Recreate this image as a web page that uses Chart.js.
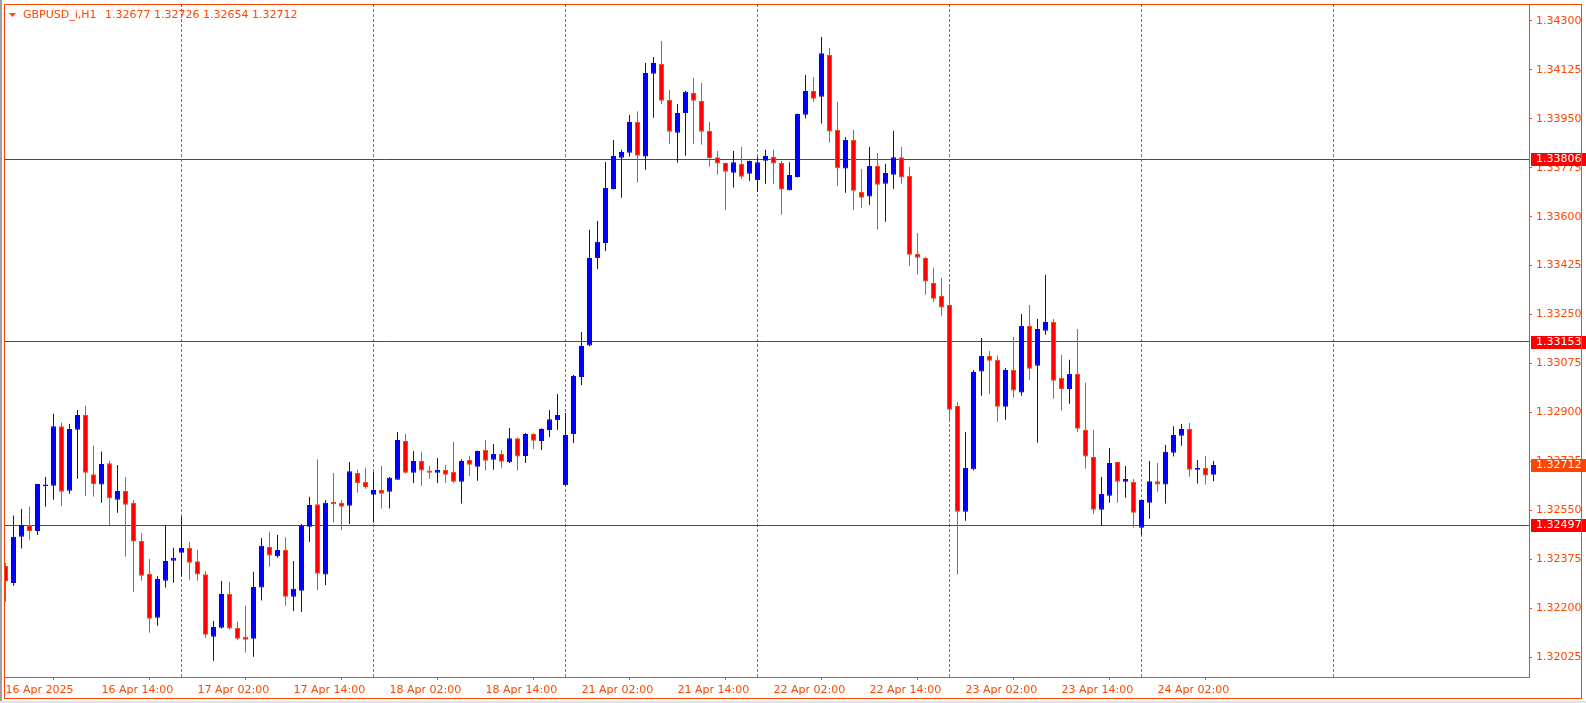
<!DOCTYPE html>
<html>
<head>
<meta charset="utf-8">
<title>GBPUSD_i,H1</title>
<script src="https://cdn.jsdelivr.net/npm/chart.js@4.4.1/dist/chart.umd.min.js"></script>
<style>
  html, body { margin: 0; padding: 0; background: #fff; overflow: hidden; }
  #wrap { width: 1586px; height: 703px; }
</style>
</head>
<body>
<div id="wrap"><canvas id="chart" width="1586" height="703"></canvas></div>
<script>
// ── DATA (H1 bars, 16 Apr 02:00 → 24 Apr 09:00) ──
const symbolTitle = 'GBPUSD_i,H1';
const lastBar = '1.32677 1.32726 1.32654 1.32712';

const opens = [
  1.32351, 1.32290, 1.32455, 1.32497, 1.32476, 1.32636, 1.32638, 1.32851, 1.32620, 1.32838,
  1.32891, 1.32679, 1.32642, 1.32718, 1.32588, 1.32619, 1.32576, 1.32440, 1.32322, 1.32166,
  1.32298, 1.32370, 1.32398, 1.32415, 1.32368, 1.32321, 1.32098, 1.32130, 1.32251, 1.32129,
  1.32097, 1.32091, 1.32274, 1.32419, 1.32386, 1.32408, 1.32241, 1.32262, 1.32491, 1.32572,
  1.32320, 1.32580, 1.32576, 1.32566, 1.32683, 1.32651, 1.32606, 1.32623, 1.32616, 1.32659,
  1.32798, 1.32684, 1.32726, 1.32692, 1.32684, 1.32694, 1.32687, 1.32652, 1.32730, 1.32706,
  1.32766, 1.32731, 1.32751, 1.32722, 1.32808, 1.32744, 1.32823, 1.32798, 1.32837, 1.32873,
  1.32640, 1.32823, 1.33027, 1.33139, 1.33452, 1.33506, 1.33699, 1.33811, 1.33829, 1.33939,
  1.33815, 1.34111, 1.34146, 1.34017, 1.33900, 1.33971, 1.34042, 1.34014, 1.33907, 1.33813,
  1.33792, 1.33757, 1.33789, 1.33754, 1.33731, 1.33800, 1.33814, 1.33792, 1.33695, 1.33742,
  1.33965, 1.34050, 1.34029, 1.34178, 1.33910, 1.33772, 1.33874, 1.33688, 1.33672, 1.33781,
  1.33718, 1.33750, 1.33813, 1.33746, 1.33467, 1.33452, 1.33363, 1.33316, 1.33284, 1.32923,
  1.32545, 1.32697, 1.33046, 1.33102, 1.33088, 1.32920, 1.33052, 1.32971, 1.33209, 1.33067,
  1.33192, 1.33223, 1.33023, 1.32984, 1.33037, 1.32837, 1.32741, 1.32552, 1.32602, 1.32723,
  1.32652, 1.32651, 1.32488, 1.32577, 1.32654, 1.32642, 1.32756, 1.32817, 1.32841, 1.32695,
  1.32701, 1.32677
];

const highs = [
  1.32362, 1.32531, 1.32555, 1.32563, 1.32644, 1.32669, 1.32895, 1.32863, 1.32859, 1.32909,
  1.32924, 1.32781, 1.32760, 1.32727, 1.32712, 1.32669, 1.32587, 1.32469, 1.32376, 1.32314,
  1.32497, 1.32416, 1.32527, 1.32437, 1.32408, 1.32332, 1.32154, 1.32297, 1.32294, 1.32151,
  1.32209, 1.32330, 1.32451, 1.32473, 1.32462, 1.32454, 1.32369, 1.32501, 1.32598, 1.32733,
  1.32587, 1.32683, 1.32587, 1.32723, 1.32695, 1.32702, 1.32687, 1.32708, 1.32669, 1.32830,
  1.32823, 1.32762, 1.32759, 1.32708, 1.32737, 1.32712, 1.32794, 1.32733, 1.32744, 1.32764,
  1.32801, 1.32787, 1.32766, 1.32844, 1.32810, 1.32826, 1.32826, 1.32843, 1.32909, 1.32966,
  1.32898, 1.33034, 1.33188, 1.33553, 1.33585, 1.33796, 1.33874, 1.33839, 1.33964, 1.33976,
  1.34150, 1.34171, 1.34228, 1.34053, 1.34003, 1.34050, 1.34096, 1.34078, 1.33939, 1.33835,
  1.33794, 1.33835, 1.33849, 1.33801, 1.33814, 1.33839, 1.33839, 1.33799, 1.33795, 1.33969,
  1.34107, 1.34100, 1.34243, 1.34203, 1.34010, 1.33885, 1.33910, 1.33771, 1.33849, 1.33828,
  1.33789, 1.33907, 1.33849, 1.33778, 1.33542, 1.33457, 1.33417, 1.33382, 1.33353, 1.32937,
  1.32830, 1.33052, 1.33166, 1.33120, 1.33104, 1.33059, 1.33170, 1.33252, 1.33284, 1.33234,
  1.33392, 1.33234, 1.33105, 1.33088, 1.33198, 1.33006, 1.32837, 1.32669, 1.32773, 1.32724,
  1.32708, 1.32662, 1.32588, 1.32726, 1.32719, 1.32784, 1.32851, 1.32859, 1.32862, 1.32730,
  1.32744, 1.32726
];

const lows = [
  1.32223, 1.32280, 1.32413, 1.32445, 1.32462, 1.32563, 1.32588, 1.32565, 1.32609, 1.32663,
  1.32601, 1.32599, 1.32577, 1.32497, 1.32541, 1.32384, 1.32259, 1.32298, 1.32112, 1.32137,
  1.32274, 1.32291, 1.32313, 1.32302, 1.32298, 1.32094, 1.32012, 1.32127, 1.32124, 1.32086,
  1.32041, 1.32026, 1.32227, 1.32348, 1.32380, 1.32209, 1.32190, 1.32186, 1.32437, 1.32265,
  1.32283, 1.32506, 1.32480, 1.32501, 1.32613, 1.32627, 1.32506, 1.32556, 1.32556, 1.32659,
  1.32682, 1.32648, 1.32638, 1.32663, 1.32648, 1.32648, 1.32648, 1.32574, 1.32673, 1.32656,
  1.32692, 1.32695, 1.32702, 1.32719, 1.32692, 1.32719, 1.32769, 1.32766, 1.32812, 1.32837,
  1.32638, 1.32791, 1.32998, 1.33137, 1.33413, 1.33477, 1.33697, 1.33668, 1.33815, 1.33722,
  1.33768, 1.33954, 1.34004, 1.33861, 1.33793, 1.33818, 1.33861, 1.33858, 1.33779, 1.33750,
  1.33625, 1.33704, 1.33736, 1.33729, 1.33689, 1.33718, 1.33718, 1.33607, 1.33694, 1.33740,
  1.33951, 1.34011, 1.33933, 1.33865, 1.33711, 1.33686, 1.33625, 1.33632, 1.33643, 1.33554,
  1.33582, 1.33700, 1.33718, 1.33425, 1.33393, 1.33321, 1.33296, 1.33246, 1.32867, 1.32320,
  1.32513, 1.32693, 1.32960, 1.32967, 1.32867, 1.32874, 1.32953, 1.32960, 1.33016, 1.32792,
  1.33178, 1.32949, 1.32906, 1.32931, 1.32831, 1.32699, 1.32538, 1.32494, 1.32577, 1.32577,
  1.32595, 1.32488, 1.32462, 1.32520, 1.32616, 1.32574, 1.32742, 1.32781, 1.32670, 1.32646,
  1.32642, 1.32654
];

const closes = [
  1.32295, 1.32455, 1.32497, 1.32476, 1.32644, 1.32642, 1.32851, 1.32616, 1.32841, 1.32891,
  1.32684, 1.32643, 1.32716, 1.32593, 1.32619, 1.32570, 1.32438, 1.32316, 1.32162, 1.32304,
  1.32369, 1.32380, 1.32415, 1.32362, 1.32320, 1.32105, 1.32133, 1.32251, 1.32127, 1.32091,
  1.32087, 1.32276, 1.32423, 1.32388, 1.32408, 1.32241, 1.32269, 1.32494, 1.32569, 1.32323,
  1.32577, 1.32572, 1.32563, 1.32690, 1.32648, 1.32633, 1.32623, 1.32609, 1.32666, 1.32801,
  1.32684, 1.32726, 1.32692, 1.32684, 1.32694, 1.32677, 1.32652, 1.32726, 1.32713, 1.32762,
  1.32727, 1.32751, 1.32724, 1.32808, 1.32742, 1.32823, 1.32799, 1.32841, 1.32876, 1.32891,
  1.32819, 1.33030, 1.33138, 1.33452, 1.33510, 1.33703, 1.33817, 1.33831, 1.33939, 1.33818,
  1.34114, 1.34150, 1.34015, 1.33904, 1.33971, 1.34047, 1.34015, 1.33904, 1.33810, 1.33790,
  1.33761, 1.33795, 1.33743, 1.33799, 1.33795, 1.33817, 1.33790, 1.33697, 1.33749, 1.33967,
  1.34050, 1.34022, 1.34185, 1.33905, 1.33773, 1.33874, 1.33693, 1.33668, 1.33781, 1.33714,
  1.33756, 1.33813, 1.33740, 1.33464, 1.33453, 1.33368, 1.33307, 1.33275, 1.32910, 1.32545,
  1.32701, 1.33045, 1.33102, 1.33085, 1.32920, 1.33052, 1.32978, 1.33209, 1.33056, 1.33198,
  1.33223, 1.33013, 1.32984, 1.33037, 1.32842, 1.32742, 1.32552, 1.32608, 1.32719, 1.32652,
  1.32662, 1.32541, 1.32587, 1.32654, 1.32642, 1.32759, 1.32819, 1.32841, 1.32695, 1.32701,
  1.32674, 1.32712
];

// bar index of each day's 00:00 bar (grid lines)
const dayStarts = [22, 46, 70, 94, 118, 142, 166];

// time axis labels (bar index → text)
const timeTickIdx = [0, 12, 24, 36, 48, 60, 72, 84, 96, 108, 120, 132, 144];
const timeTickLabels = [
  '16 Apr 2025', '16 Apr 14:00', '17 Apr 02:00', '17 Apr 14:00', '18 Apr 02:00',
  '18 Apr 14:00', '21 Apr 02:00', '21 Apr 14:00', '22 Apr 02:00', '22 Apr 14:00',
  '23 Apr 02:00', '23 Apr 14:00', '24 Apr 02:00'
];

const priceTicks = [
  1.32025, 1.32200, 1.32375, 1.32550, 1.32725, 1.32900, 1.33075,
  1.33250, 1.33425, 1.33600, 1.33775, 1.33950, 1.34125, 1.34300
];

const levelLines = [1.33806, 1.33153, 1.32497];
const bidPrice = 1.32712;

// ── STYLE ──
const FG = '#FF4500';
const BULL = '#0000FF';
const BEAR_FILL = '#FF0000';
const BEAR_LINE = '#FF4500';
const FONT = "11px 'DejaVu Sans'";

const isBull = opens.map((o, i) => closes[i] >= o);

const bodies = opens.map((o, i) => ({ x: i, y: [o, closes[i]] }));
const wicks  = lows.map((l, i) => ({ x: i, y: [l, highs[i]] }));

// ── MT4 look: grid, levels, price boxes, title ──
const mtPlugin = {
  id: 'mt4',
  beforeDraw(chart) {
    const { ctx, width, height } = chart;
    ctx.save();
    ctx.fillStyle = '#FFFFFF';
    ctx.fillRect(0, 0, width, height);
    ctx.restore();
  },
  beforeDatasetsDraw(chart) {
    const { ctx, chartArea: a, scales: { x, y } } = chart;
    ctx.save();
    ctx.lineWidth = 1;

    // dotted day grid
    ctx.strokeStyle = FG;
    ctx.setLineDash([3, 2]);
    dayStarts.forEach(d => {
      const px = x.getPixelForValue(d);
      if (px < a.left || px > a.right) return;
      ctx.beginPath();
      ctx.moveTo(px, a.top);
      ctx.lineTo(px, a.bottom);
      ctx.stroke();
    });
    ctx.setLineDash([]);

    // horizontal levels
    ctx.strokeStyle = '#FF0000';
    levelLines.forEach(v => {
      const py = Math.floor(y.getPixelForValue(v)) + 0.5;
      ctx.beginPath();
      ctx.moveTo(a.left, py);
      ctx.lineTo(a.right, py);
      ctx.stroke();
    });
    ctx.restore();
  },
  afterDraw(chart) {
    const { ctx, chartArea: a, scales: { y }, width, height } = chart;
    ctx.save();
    ctx.font = FONT;
    ctx.textBaseline = 'middle';

    const box = (v, bg) => {
      const cy = Math.round(y.getPixelForValue(v));
      ctx.fillStyle = bg;
      ctx.fillRect(a.right + 2, cy - 6, width - a.right - 2, 13);
      ctx.fillStyle = '#FFFFFF';
      ctx.fillText(v.toFixed(5), a.right + 7, cy + 0.5);
    };
    levelLines.forEach(v => box(v, '#FF0000'));
    box(bidPrice, FG);

    // outer frame
    ctx.strokeStyle = FG;
    ctx.lineWidth = 1;
    ctx.strokeRect(4.5, 4.5, width - 9, height - 9);

    // title
    ctx.fillStyle = FG;
    ctx.beginPath();
    ctx.moveTo(9, 13);
    ctx.lineTo(16, 13);
    ctx.lineTo(12.5, 17);
    ctx.closePath();
    ctx.fill();
    ctx.fillText(symbolTitle, 23, 15);
    ctx.fillText(lastBar, 105, 15);

    // window chrome
    ctx.fillStyle = '#A0A0A0';
    ctx.fillRect(0, 0, 2, height);
    ctx.fillStyle = '#E3E3E3';
    ctx.fillRect(0, height - 2, width, 2);
    ctx.restore();
  }
};

const ctx = document.getElementById('chart').getContext('2d');

new Chart(ctx, {
  type: 'bar',
  data: {
    datasets: [
      {
        data: bodies,
        backgroundColor: isBull.map(b => b ? BULL : BEAR_FILL),
        borderColor: isBull.map(b => b ? BULL : BEAR_LINE),
        borderWidth: 1,
        borderSkipped: false,
        maxBarThickness: 5,
        minBarLength: 1,
        inflateAmount: 0,
        grouped: false,
        clip: 0
      },
      {
        data: wicks,
        backgroundColor: isBull.map(b => b ? BULL : BEAR_LINE),
        borderWidth: 0,
        maxBarThickness: 1,
        minBarLength: 1,
        inflateAmount: 0,
        grouped: false,
        clip: 0
      }
    ]
  },
  options: {
    responsive: false,
    animation: false,
    devicePixelRatio: 1,
    layout: { padding: { left: 4, top: 4, right: 0, bottom: 0 } },
    plugins: { legend: { display: false }, tooltip: { enabled: false } },
    scales: {
      x: {
        type: 'linear',
        position: 'bottom',
        min: -0.1875,
        max: 190.4375,
        offset: false,
        grid: { drawOnChartArea: false, color: FG, tickLength: 3 },
        border: { display: true, color: FG, width: 1 },
        ticks: {
          autoSkip: false,
          maxRotation: 0,
          minRotation: 0,
          align: 'start',
          padding: 3.5,
          color: FG,
          font: { family: 'DejaVu Sans', size: 11 },
          callback: (v, i) => timeTickLabels[i]
        },
        afterBuildTicks: s => { s.ticks = timeTickIdx.map(v => ({ value: v })); },
        afterFit: s => { s.height = 26; s.paddingLeft = 0; s.paddingRight = 0; }
      },
      y: {
        type: 'linear',
        position: 'right',
        min: 1.319538,
        max: 1.343607,
        grid: { drawOnChartArea: false, color: FG, tickLength: 3 },
        border: { display: true, color: FG, width: 1 },
        ticks: {
          autoSkip: false,
          padding: 4,
          color: FG,
          font: { family: 'DejaVu Sans', size: 11 },
          callback: v => Number(v).toFixed(5)
        },
        afterBuildTicks: s => { s.ticks = priceTicks.map(v => ({ value: v })); },
        afterFit: s => { s.width = 57; s.paddingTop = 0; s.paddingBottom = 0; }
      }
    }
  },
  plugins: [mtPlugin]
});
</script>
</body>
</html>
